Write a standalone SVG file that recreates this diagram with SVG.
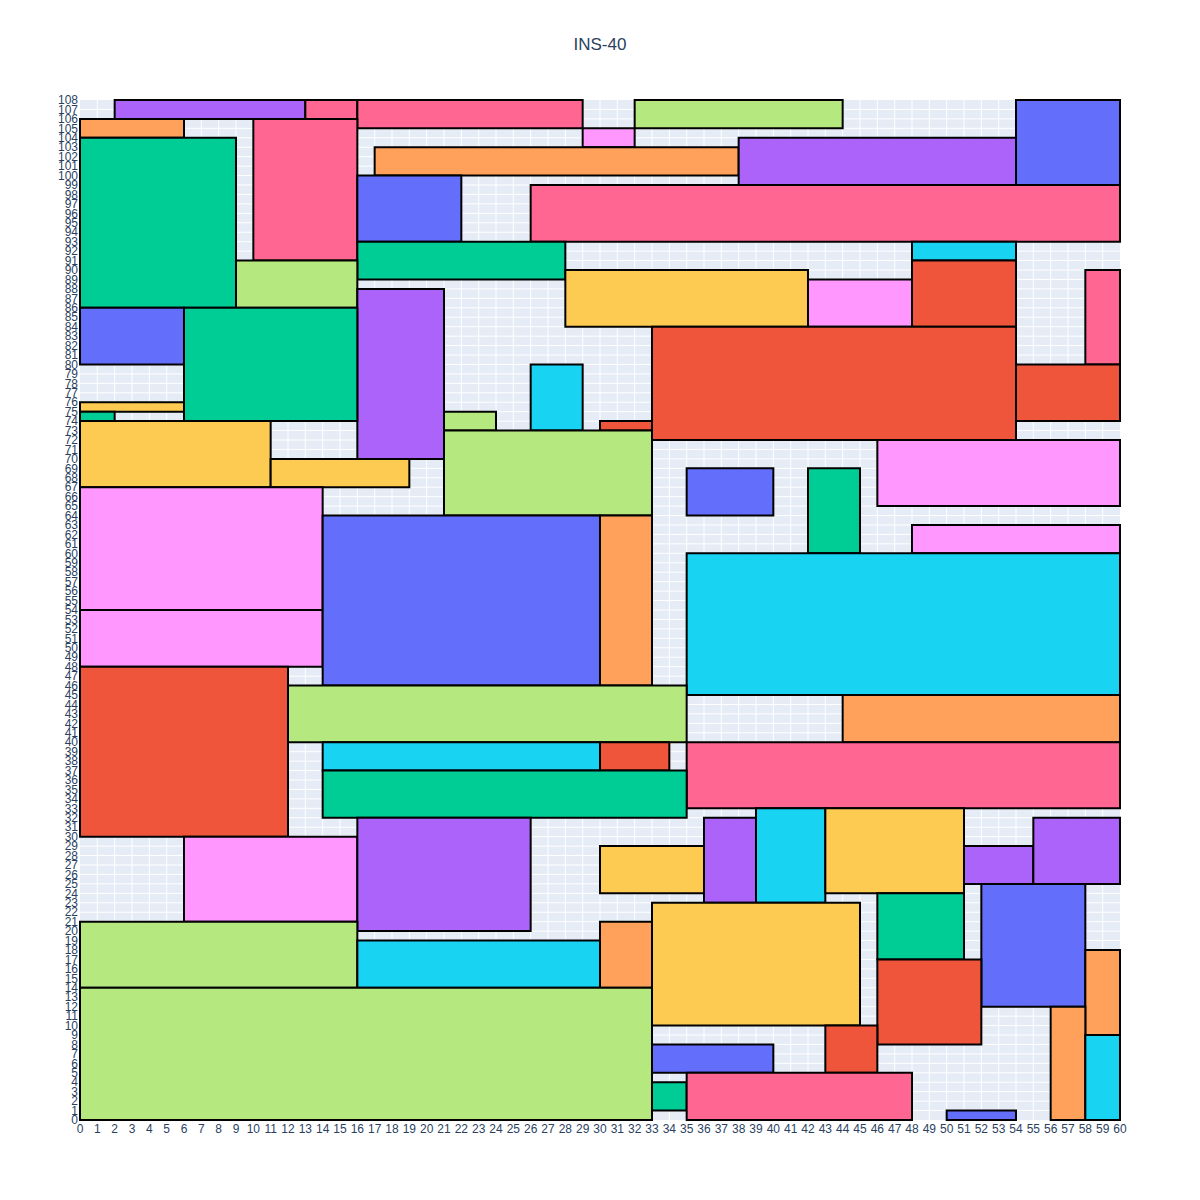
<svg xmlns="http://www.w3.org/2000/svg" width="1200" height="1200" viewBox="0 0 1200 1200">
  <style>
    text { font-family: "Liberation Sans", Arial, sans-serif; fill: #2a3f5f; }
    .title { font-size: 17px; text-anchor: middle; }
    .yt { font-size: 12px; text-anchor: end; }
    .xt { font-size: 12px; text-anchor: middle; }
    .grid { fill: none; stroke: #ffffff; stroke-width: 1; vector-effect: non-scaling-stroke; }
    .tiles rect { stroke: #000000; stroke-width: 2; vector-effect: non-scaling-stroke; }
    .blue { fill: #636EFA; }
    .red { fill: #EF553B; }
    .green { fill: #00CC96; }
    .purple { fill: #AB63FA; }
    .orange { fill: #FFA15A; }
    .cyan { fill: #19D3F3; }
    .pink { fill: #FF6692; }
    .lgreen { fill: #B6E880; }
    .lpink { fill: #FF97FF; }
    .yellow { fill: #FECB52; }
  </style>
  <rect x="0" y="0" width="1200" height="1200" fill="#ffffff"/>
  <text class="title" x="600" y="50">INS-40</text>

  <!-- plot area: data space 0..60 x 0..108 mapped onto 80..1120 x 1120..100 -->
  <rect x="80" y="100" width="1040" height="1020" fill="#E5ECF6"/>
  <g id="plot" transform="translate(80,1120) scale(17.333333,-9.444444)">
    <path class="grid" d="M1 0V108M2 0V108M3 0V108M4 0V108M5 0V108M6 0V108M7 0V108M8 0V108M9 0V108M10 0V108M11 0V108M12 0V108M13 0V108M14 0V108M15 0V108M16 0V108M17 0V108M18 0V108M19 0V108M20 0V108M21 0V108M22 0V108M23 0V108M24 0V108M25 0V108M26 0V108M27 0V108M28 0V108M29 0V108M30 0V108M31 0V108M32 0V108M33 0V108M34 0V108M35 0V108M36 0V108M37 0V108M38 0V108M39 0V108M40 0V108M41 0V108M42 0V108M43 0V108M44 0V108M45 0V108M46 0V108M47 0V108M48 0V108M49 0V108M50 0V108M51 0V108M52 0V108M53 0V108M54 0V108M55 0V108M56 0V108M57 0V108M58 0V108M59 0V108"/>
    <path class="grid" d="M0 1H60M0 2H60M0 3H60M0 4H60M0 5H60M0 6H60M0 7H60M0 8H60M0 9H60M0 10H60M0 11H60M0 12H60M0 13H60M0 14H60M0 15H60M0 16H60M0 17H60M0 18H60M0 19H60M0 20H60M0 21H60M0 22H60M0 23H60M0 24H60M0 25H60M0 26H60M0 27H60M0 28H60M0 29H60M0 30H60M0 31H60M0 32H60M0 33H60M0 34H60M0 35H60M0 36H60M0 37H60M0 38H60M0 39H60M0 40H60M0 41H60M0 42H60M0 43H60M0 44H60M0 45H60M0 46H60M0 47H60M0 48H60M0 49H60M0 50H60M0 51H60M0 52H60M0 53H60M0 54H60M0 55H60M0 56H60M0 57H60M0 58H60M0 59H60M0 60H60M0 61H60M0 62H60M0 63H60M0 64H60M0 65H60M0 66H60M0 67H60M0 68H60M0 69H60M0 70H60M0 71H60M0 72H60M0 73H60M0 74H60M0 75H60M0 76H60M0 77H60M0 78H60M0 79H60M0 80H60M0 81H60M0 82H60M0 83H60M0 84H60M0 85H60M0 86H60M0 87H60M0 88H60M0 89H60M0 90H60M0 91H60M0 92H60M0 93H60M0 94H60M0 95H60M0 96H60M0 97H60M0 98H60M0 99H60M0 100H60M0 101H60M0 102H60M0 103H60M0 104H60M0 105H60M0 106H60M0 107H60"/>

    <g class="tiles">
      <rect class="purple" x="2" y="106" width="11" height="2"/>
      <rect class="pink" x="13" y="106" width="3" height="2"/>
      <rect class="pink" x="16" y="105" width="13" height="3"/>
      <rect class="lgreen" x="32" y="105" width="12" height="3"/>
      <rect class="blue" x="54" y="99" width="6" height="9"/>
      <rect class="orange" x="0" y="104" width="6" height="2"/>
      <rect class="green" x="0" y="86" width="9" height="18"/>
      <rect class="pink" x="10" y="91" width="6" height="15"/>
      <rect class="lpink" x="29" y="103" width="3" height="2"/>
      <rect class="orange" x="17" y="100" width="21" height="3"/>
      <rect class="purple" x="38" y="99" width="16" height="5"/>
      <rect class="blue" x="16" y="93" width="6" height="7"/>
      <rect class="pink" x="26" y="93" width="34" height="6"/>
      <rect class="green" x="16" y="89" width="12" height="4"/>
      <rect class="cyan" x="48" y="91" width="6" height="2"/>
      <rect class="lgreen" x="9" y="86" width="7" height="5"/>
      <rect class="yellow" x="28" y="84" width="14" height="6"/>
      <rect class="lpink" x="42" y="84" width="6" height="5"/>
      <rect class="red" x="48" y="84" width="6" height="7"/>
      <rect class="pink" x="58" y="80" width="2" height="10"/>
      <rect class="purple" x="16" y="70" width="5" height="18"/>
      <rect class="blue" x="0" y="80" width="6" height="6"/>
      <rect class="green" x="6" y="74" width="10" height="12"/>
      <rect class="yellow" x="0" y="75" width="6" height="1"/>
      <rect class="green" x="0" y="74" width="2" height="1"/>
      <rect class="red" x="33" y="72" width="21" height="12"/>
      <rect class="red" x="54" y="74" width="6" height="6"/>
      <rect class="cyan" x="26" y="73" width="3" height="7"/>
      <rect class="lgreen" x="21" y="73" width="3" height="2"/>
      <rect class="red" x="30" y="73" width="3" height="1"/>
      <rect class="yellow" x="0" y="67" width="11" height="7"/>
      <rect class="yellow" x="11" y="67" width="8" height="3"/>
      <rect class="lgreen" x="21" y="64" width="12" height="9"/>
      <rect class="blue" x="35" y="64" width="5" height="5"/>
      <rect class="green" x="42" y="60" width="3" height="9"/>
      <rect class="lpink" x="46" y="65" width="14" height="7"/>
      <rect class="lpink" x="48" y="60" width="12" height="3"/>
      <rect class="lpink" x="0" y="54" width="14" height="13"/>
      <rect class="lpink" x="0" y="48" width="14" height="6"/>
      <rect class="blue" x="14" y="46" width="16" height="18"/>
      <rect class="orange" x="30" y="46" width="3" height="18"/>
      <rect class="cyan" x="35" y="45" width="25" height="15"/>
      <rect class="red" x="0" y="30" width="12" height="18"/>
      <rect class="lgreen" x="12" y="40" width="23" height="6"/>
      <rect class="orange" x="44" y="40" width="16" height="5"/>
      <rect class="cyan" x="14" y="37" width="16" height="3"/>
      <rect class="red" x="30" y="37" width="4" height="3"/>
      <rect class="pink" x="35" y="33" width="25" height="7"/>
      <rect class="green" x="14" y="32" width="21" height="5"/>
      <rect class="lpink" x="6" y="21" width="10" height="9"/>
      <rect class="purple" x="16" y="20" width="10" height="12"/>
      <rect class="yellow" x="30" y="24" width="6" height="5"/>
      <rect class="purple" x="36" y="23" width="3" height="9"/>
      <rect class="cyan" x="39" y="23" width="4" height="10"/>
      <rect class="yellow" x="43" y="24" width="8" height="9"/>
      <rect class="purple" x="51" y="25" width="4" height="4"/>
      <rect class="purple" x="55" y="25" width="5" height="7"/>
      <rect class="green" x="46" y="17" width="5" height="7"/>
      <rect class="blue" x="52" y="12" width="6" height="13"/>
      <rect class="yellow" x="33" y="10" width="12" height="13"/>
      <rect class="orange" x="30" y="14" width="3" height="7"/>
      <rect class="lgreen" x="0" y="14" width="16" height="7"/>
      <rect class="cyan" x="16" y="14" width="14" height="5"/>
      <rect class="lgreen" x="0" y="0" width="33" height="14"/>
      <rect class="red" x="46" y="8" width="6" height="9"/>
      <rect class="orange" x="58" y="9" width="2" height="9"/>
      <rect class="orange" x="56" y="0" width="2" height="12"/>
      <rect class="cyan" x="58" y="0" width="2" height="9"/>
      <rect class="red" x="43" y="5" width="3" height="5"/>
      <rect class="blue" x="33" y="5" width="7" height="3"/>
      <rect class="green" x="33" y="1" width="2" height="3"/>
      <rect class="pink" x="35" y="0" width="13" height="5"/>
      <rect class="blue" x="50" y="0" width="4" height="1"/>
    </g>
  </g>

  <!-- y axis tick labels -->
  <g id="y-ticks">
    <text class="yt" x="78" y="1124.2">0</text>
    <text class="yt" x="78" y="1114.76">1</text>
    <text class="yt" x="78" y="1105.31">2</text>
    <text class="yt" x="78" y="1095.87">3</text>
    <text class="yt" x="78" y="1086.42">4</text>
    <text class="yt" x="78" y="1076.98">5</text>
    <text class="yt" x="78" y="1067.53">6</text>
    <text class="yt" x="78" y="1058.09">7</text>
    <text class="yt" x="78" y="1048.64">8</text>
    <text class="yt" x="78" y="1039.2">9</text>
    <text class="yt" x="78" y="1029.76">10</text>
    <text class="yt" x="78" y="1020.31">11</text>
    <text class="yt" x="78" y="1010.87">12</text>
    <text class="yt" x="78" y="1001.42">13</text>
    <text class="yt" x="78" y="991.98">14</text>
    <text class="yt" x="78" y="982.53">15</text>
    <text class="yt" x="78" y="973.09">16</text>
    <text class="yt" x="78" y="963.64">17</text>
    <text class="yt" x="78" y="954.2">18</text>
    <text class="yt" x="78" y="944.76">19</text>
    <text class="yt" x="78" y="935.31">20</text>
    <text class="yt" x="78" y="925.87">21</text>
    <text class="yt" x="78" y="916.42">22</text>
    <text class="yt" x="78" y="906.98">23</text>
    <text class="yt" x="78" y="897.53">24</text>
    <text class="yt" x="78" y="888.09">25</text>
    <text class="yt" x="78" y="878.64">26</text>
    <text class="yt" x="78" y="869.2">27</text>
    <text class="yt" x="78" y="859.76">28</text>
    <text class="yt" x="78" y="850.31">29</text>
    <text class="yt" x="78" y="840.87">30</text>
    <text class="yt" x="78" y="831.42">31</text>
    <text class="yt" x="78" y="821.98">32</text>
    <text class="yt" x="78" y="812.53">33</text>
    <text class="yt" x="78" y="803.09">34</text>
    <text class="yt" x="78" y="793.64">35</text>
    <text class="yt" x="78" y="784.2">36</text>
    <text class="yt" x="78" y="774.76">37</text>
    <text class="yt" x="78" y="765.31">38</text>
    <text class="yt" x="78" y="755.87">39</text>
    <text class="yt" x="78" y="746.42">40</text>
    <text class="yt" x="78" y="736.98">41</text>
    <text class="yt" x="78" y="727.53">42</text>
    <text class="yt" x="78" y="718.09">43</text>
    <text class="yt" x="78" y="708.64">44</text>
    <text class="yt" x="78" y="699.2">45</text>
    <text class="yt" x="78" y="689.76">46</text>
    <text class="yt" x="78" y="680.31">47</text>
    <text class="yt" x="78" y="670.87">48</text>
    <text class="yt" x="78" y="661.42">49</text>
    <text class="yt" x="78" y="651.98">50</text>
    <text class="yt" x="78" y="642.53">51</text>
    <text class="yt" x="78" y="633.09">52</text>
    <text class="yt" x="78" y="623.64">53</text>
    <text class="yt" x="78" y="614.2">54</text>
    <text class="yt" x="78" y="604.76">55</text>
    <text class="yt" x="78" y="595.31">56</text>
    <text class="yt" x="78" y="585.87">57</text>
    <text class="yt" x="78" y="576.42">58</text>
    <text class="yt" x="78" y="566.98">59</text>
    <text class="yt" x="78" y="557.53">60</text>
    <text class="yt" x="78" y="548.09">61</text>
    <text class="yt" x="78" y="538.64">62</text>
    <text class="yt" x="78" y="529.2">63</text>
    <text class="yt" x="78" y="519.76">64</text>
    <text class="yt" x="78" y="510.31">65</text>
    <text class="yt" x="78" y="500.87">66</text>
    <text class="yt" x="78" y="491.42">67</text>
    <text class="yt" x="78" y="481.98">68</text>
    <text class="yt" x="78" y="472.53">69</text>
    <text class="yt" x="78" y="463.09">70</text>
    <text class="yt" x="78" y="453.64">71</text>
    <text class="yt" x="78" y="444.2">72</text>
    <text class="yt" x="78" y="434.76">73</text>
    <text class="yt" x="78" y="425.31">74</text>
    <text class="yt" x="78" y="415.87">75</text>
    <text class="yt" x="78" y="406.42">76</text>
    <text class="yt" x="78" y="396.98">77</text>
    <text class="yt" x="78" y="387.53">78</text>
    <text class="yt" x="78" y="378.09">79</text>
    <text class="yt" x="78" y="368.64">80</text>
    <text class="yt" x="78" y="359.2">81</text>
    <text class="yt" x="78" y="349.76">82</text>
    <text class="yt" x="78" y="340.31">83</text>
    <text class="yt" x="78" y="330.87">84</text>
    <text class="yt" x="78" y="321.42">85</text>
    <text class="yt" x="78" y="311.98">86</text>
    <text class="yt" x="78" y="302.53">87</text>
    <text class="yt" x="78" y="293.09">88</text>
    <text class="yt" x="78" y="283.64">89</text>
    <text class="yt" x="78" y="274.2">90</text>
    <text class="yt" x="78" y="264.76">91</text>
    <text class="yt" x="78" y="255.31">92</text>
    <text class="yt" x="78" y="245.87">93</text>
    <text class="yt" x="78" y="236.42">94</text>
    <text class="yt" x="78" y="226.98">95</text>
    <text class="yt" x="78" y="217.53">96</text>
    <text class="yt" x="78" y="208.09">97</text>
    <text class="yt" x="78" y="198.64">98</text>
    <text class="yt" x="78" y="189.2">99</text>
    <text class="yt" x="78" y="179.76">100</text>
    <text class="yt" x="78" y="170.31">101</text>
    <text class="yt" x="78" y="160.87">102</text>
    <text class="yt" x="78" y="151.42">103</text>
    <text class="yt" x="78" y="141.98">104</text>
    <text class="yt" x="78" y="132.53">105</text>
    <text class="yt" x="78" y="123.09">106</text>
    <text class="yt" x="78" y="113.64">107</text>
    <text class="yt" x="78" y="104.2">108</text>
  </g>

  <!-- x axis tick labels -->
  <g id="x-ticks">
    <text class="xt" x="80" y="1133">0</text>
    <text class="xt" x="97.33" y="1133">1</text>
    <text class="xt" x="114.67" y="1133">2</text>
    <text class="xt" x="132" y="1133">3</text>
    <text class="xt" x="149.33" y="1133">4</text>
    <text class="xt" x="166.67" y="1133">5</text>
    <text class="xt" x="184" y="1133">6</text>
    <text class="xt" x="201.33" y="1133">7</text>
    <text class="xt" x="218.67" y="1133">8</text>
    <text class="xt" x="236" y="1133">9</text>
    <text class="xt" x="253.33" y="1133">10</text>
    <text class="xt" x="270.67" y="1133">11</text>
    <text class="xt" x="288" y="1133">12</text>
    <text class="xt" x="305.33" y="1133">13</text>
    <text class="xt" x="322.67" y="1133">14</text>
    <text class="xt" x="340" y="1133">15</text>
    <text class="xt" x="357.33" y="1133">16</text>
    <text class="xt" x="374.67" y="1133">17</text>
    <text class="xt" x="392" y="1133">18</text>
    <text class="xt" x="409.33" y="1133">19</text>
    <text class="xt" x="426.67" y="1133">20</text>
    <text class="xt" x="444" y="1133">21</text>
    <text class="xt" x="461.33" y="1133">22</text>
    <text class="xt" x="478.67" y="1133">23</text>
    <text class="xt" x="496" y="1133">24</text>
    <text class="xt" x="513.33" y="1133">25</text>
    <text class="xt" x="530.67" y="1133">26</text>
    <text class="xt" x="548" y="1133">27</text>
    <text class="xt" x="565.33" y="1133">28</text>
    <text class="xt" x="582.67" y="1133">29</text>
    <text class="xt" x="600" y="1133">30</text>
    <text class="xt" x="617.33" y="1133">31</text>
    <text class="xt" x="634.67" y="1133">32</text>
    <text class="xt" x="652" y="1133">33</text>
    <text class="xt" x="669.33" y="1133">34</text>
    <text class="xt" x="686.67" y="1133">35</text>
    <text class="xt" x="704" y="1133">36</text>
    <text class="xt" x="721.33" y="1133">37</text>
    <text class="xt" x="738.67" y="1133">38</text>
    <text class="xt" x="756" y="1133">39</text>
    <text class="xt" x="773.33" y="1133">40</text>
    <text class="xt" x="790.67" y="1133">41</text>
    <text class="xt" x="808" y="1133">42</text>
    <text class="xt" x="825.33" y="1133">43</text>
    <text class="xt" x="842.67" y="1133">44</text>
    <text class="xt" x="860" y="1133">45</text>
    <text class="xt" x="877.33" y="1133">46</text>
    <text class="xt" x="894.67" y="1133">47</text>
    <text class="xt" x="912" y="1133">48</text>
    <text class="xt" x="929.33" y="1133">49</text>
    <text class="xt" x="946.67" y="1133">50</text>
    <text class="xt" x="964" y="1133">51</text>
    <text class="xt" x="981.33" y="1133">52</text>
    <text class="xt" x="998.67" y="1133">53</text>
    <text class="xt" x="1016" y="1133">54</text>
    <text class="xt" x="1033.33" y="1133">55</text>
    <text class="xt" x="1050.67" y="1133">56</text>
    <text class="xt" x="1068" y="1133">57</text>
    <text class="xt" x="1085.33" y="1133">58</text>
    <text class="xt" x="1102.67" y="1133">59</text>
    <text class="xt" x="1120" y="1133">60</text>
  </g>
</svg>
